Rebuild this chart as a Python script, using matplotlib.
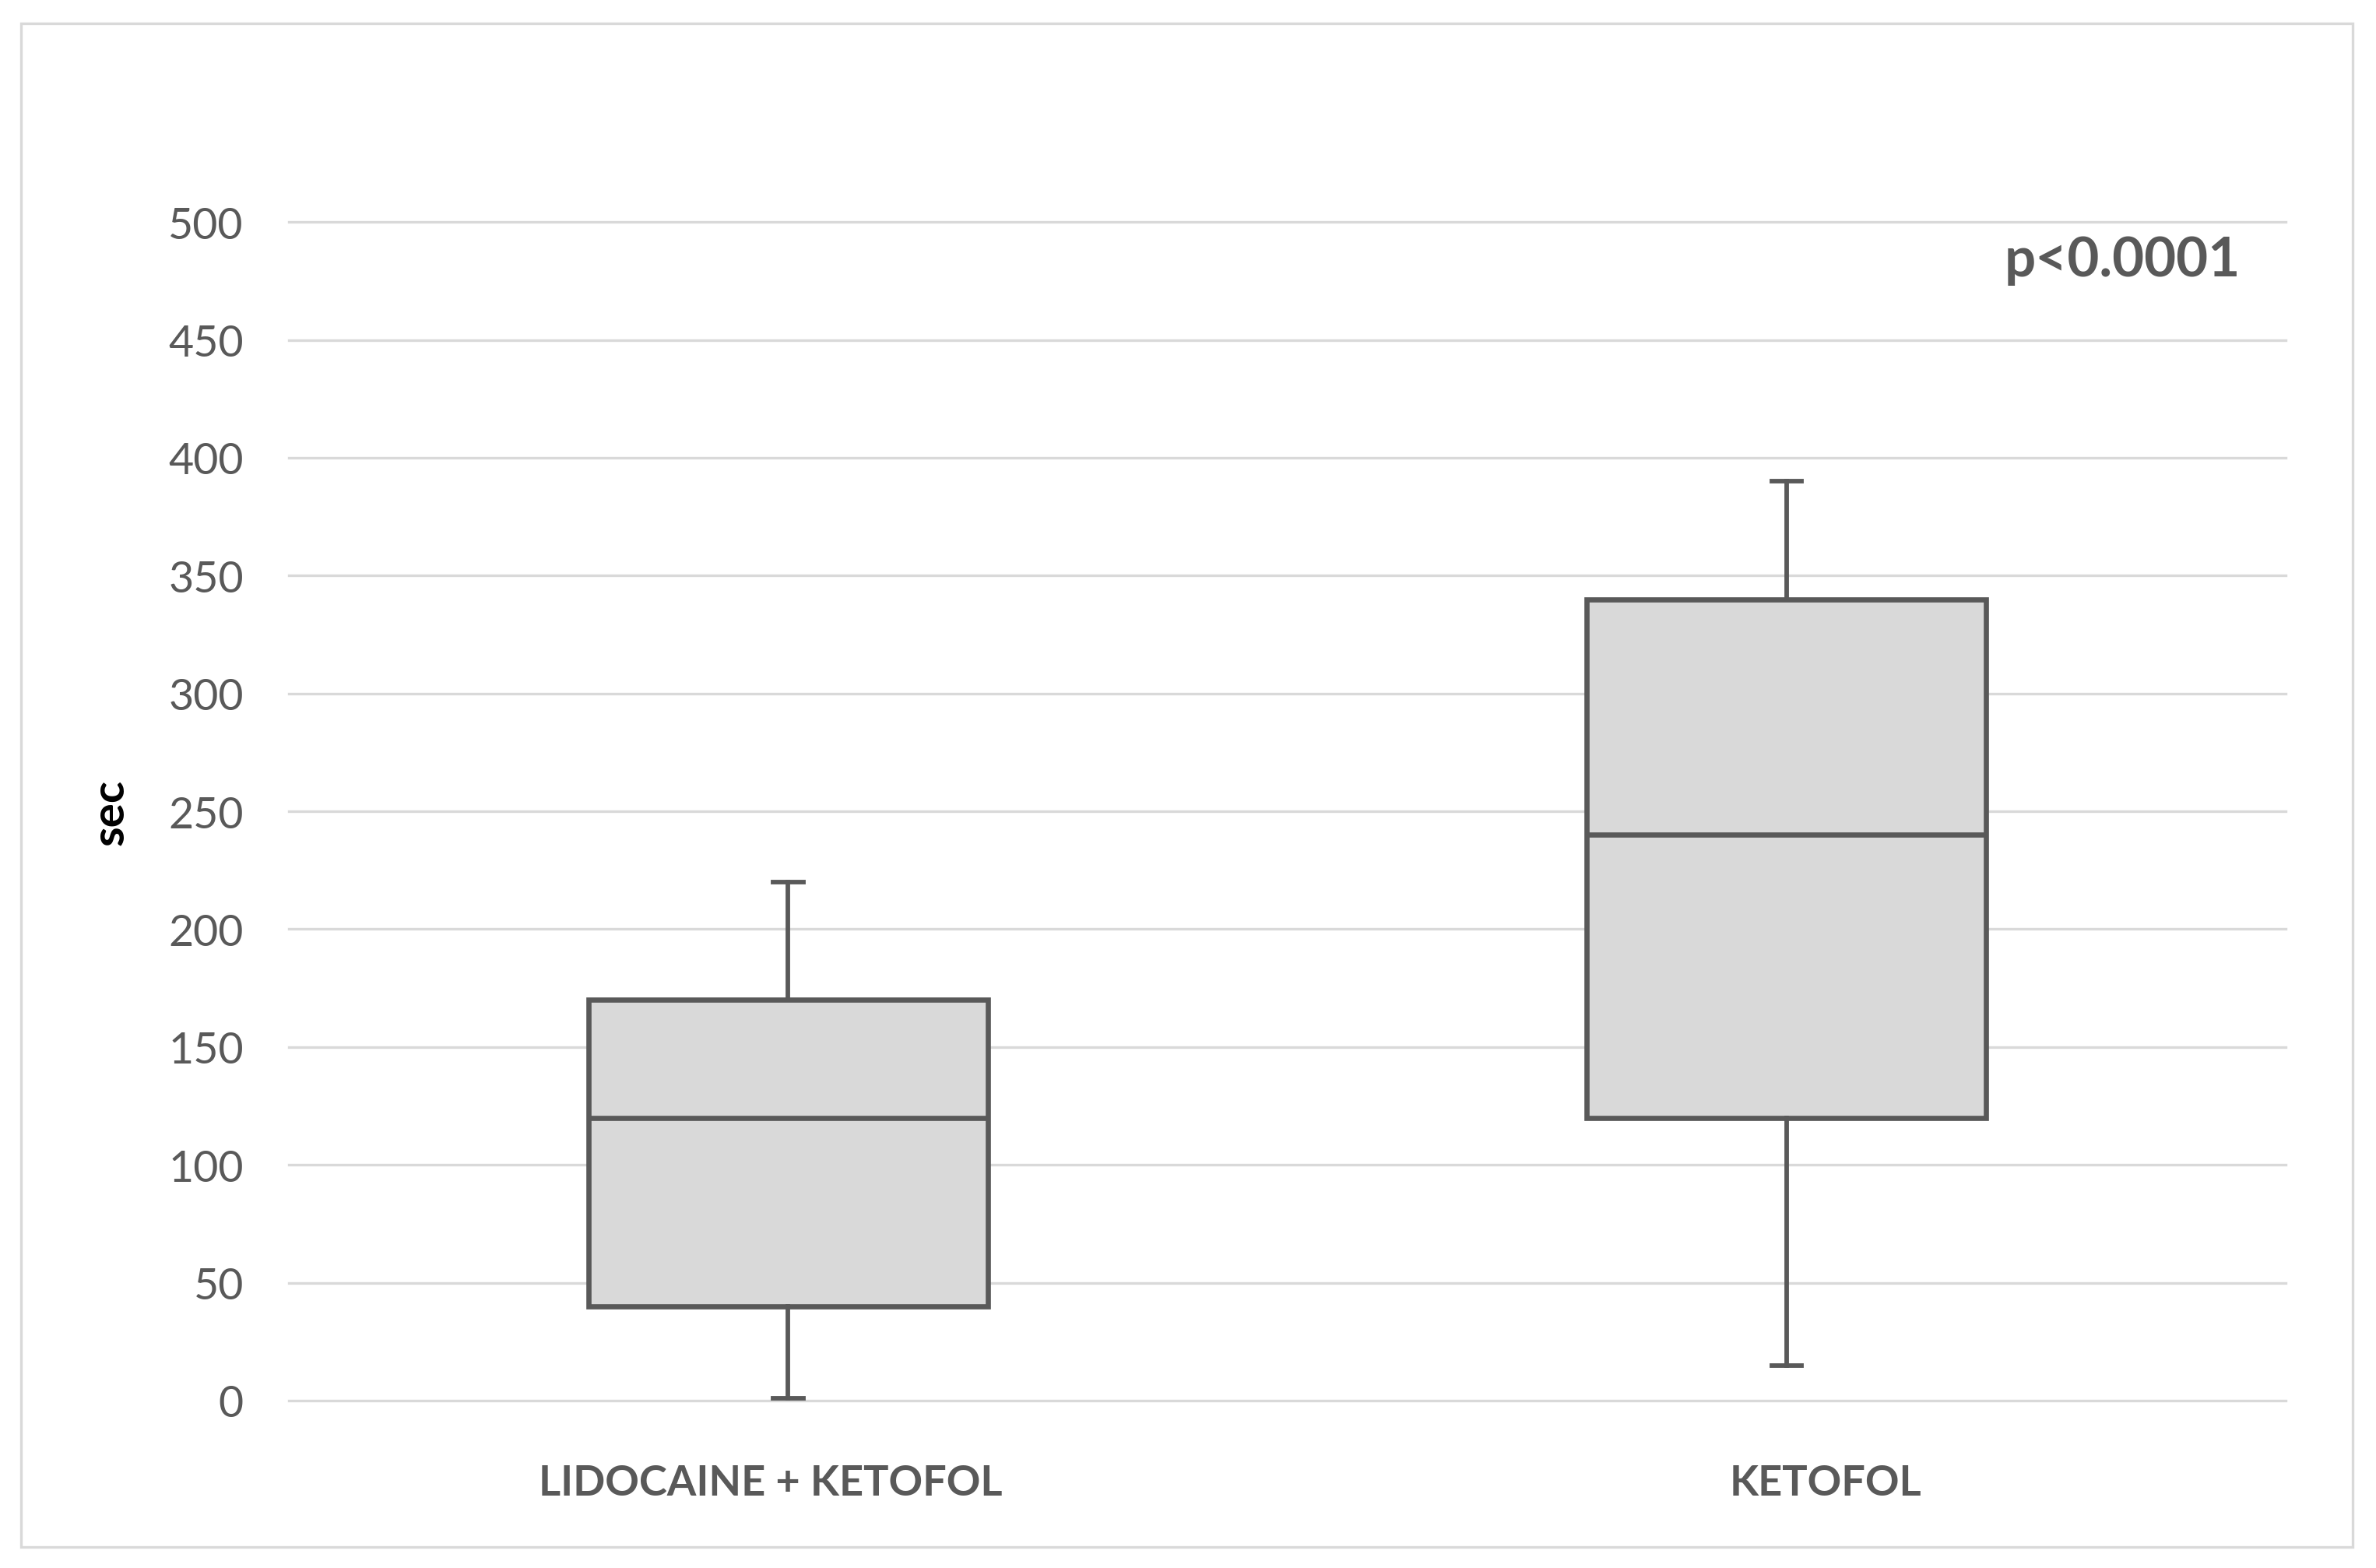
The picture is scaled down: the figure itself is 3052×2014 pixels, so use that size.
import numpy as np
import matplotlib
matplotlib.use('Agg')
import matplotlib.pyplot as plt
from matplotlib.patches import Rectangle
from matplotlib.transforms import ScaledTranslation

# Box plot summary values (seconds)
groups = ['LIDOCAINE + KETOFOL', 'KETOFOL']
whisker_low = [1, 15]
q1 = [40, 120]
median = [120, 240]
q3 = [170, 340]
whisker_high = [220, 390]
y_ticks = [0, 50, 100, 150, 200, 250, 300, 350, 400, 450, 500]

GREY_TXT = '#595959'
GREY_LINE = '#d9d9d9'

plt.rcParams['font.family'] = ['Lato', 'DejaVu Sans']

fig = plt.figure(figsize=(15.26, 10.075), dpi=200)
ax = fig.add_axes([0.1216, 0.1067, 0.8404, 0.7513])

# stats dicts for bxp
stats = []
for i in range(len(groups)):
    stats.append({'label': groups[i], 'whislo': whisker_low[i], 'q1': q1[i],
                  'med': median[i], 'q3': q3[i], 'whishi': whisker_high[i],
                  'fliers': []})

lw = 2.4
art = ax.bxp(stats, positions=range(len(groups)), widths=0.4, capwidths=0.03,
             patch_artist=True, showfliers=False,
             boxprops=dict(facecolor=GREY_LINE, edgecolor=GREY_TXT, linewidth=lw),
             medianprops=dict(color=GREY_TXT, linewidth=lw),
             whiskerprops=dict(color=GREY_TXT, linewidth=2.1),
             capprops=dict(color=GREY_TXT, linewidth=2.1))
for key in ['whiskers', 'caps', 'boxes', 'medians']:
    for a in art[key]:
        a.set_clip_on(False)
        a.set_zorder(3)

ax.set_xlim(-0.5, len(groups) - 0.5)
ax.set_ylim(0, 500)
ax.set_yticks(y_ticks)
ax.set_yticklabels([str(v) for v in y_ticks])
ax.grid(axis='y', color=GREY_LINE, linewidth=1.2)
ax.set_axisbelow(True)
for t in ax.yaxis.get_major_ticks():
    t.gridline.set_clip_on(False)

for s in ax.spines.values():
    s.set_visible(False)

ax.tick_params(axis='y', length=0, pad=21, labelsize=20, labelcolor=GREY_TXT)
ax.tick_params(axis='x', length=0, pad=29, labelsize=19.5, labelcolor=GREY_TXT)
# category labels sit a little off-centre in the original
shifts = [-23, 50]
for lab, dx in zip(ax.get_xticklabels(), shifts):
    lab.set_fontweight('bold')
    lab.set_transform(lab.get_transform() + ScaledTranslation(dx / 200, 0, fig.dpi_scale_trans))

ax.set_ylabel('sec', fontsize=21, fontweight='bold', color='black', labelpad=0)
ax.yaxis.set_label_coords(169 / 3052, 1 - 1043 / 2015, transform=fig.transFigure)

fig.text(2878 / 3052, 1 - 355 / 2015, 'p<0.0001', ha='right', va='baseline',
         fontsize=25.5, fontweight='bold', color=GREY_TXT)

# light frame around the whole chart
fig.patches.append(Rectangle((27 / 3052, 1 - 1988 / 2015), 2995 / 3052, 1957 / 2015,
                             transform=fig.transFigure, fill=False,
                             edgecolor=GREY_LINE, linewidth=1.2))

fig.savefig('out.png', dpi=200, facecolor='white')
